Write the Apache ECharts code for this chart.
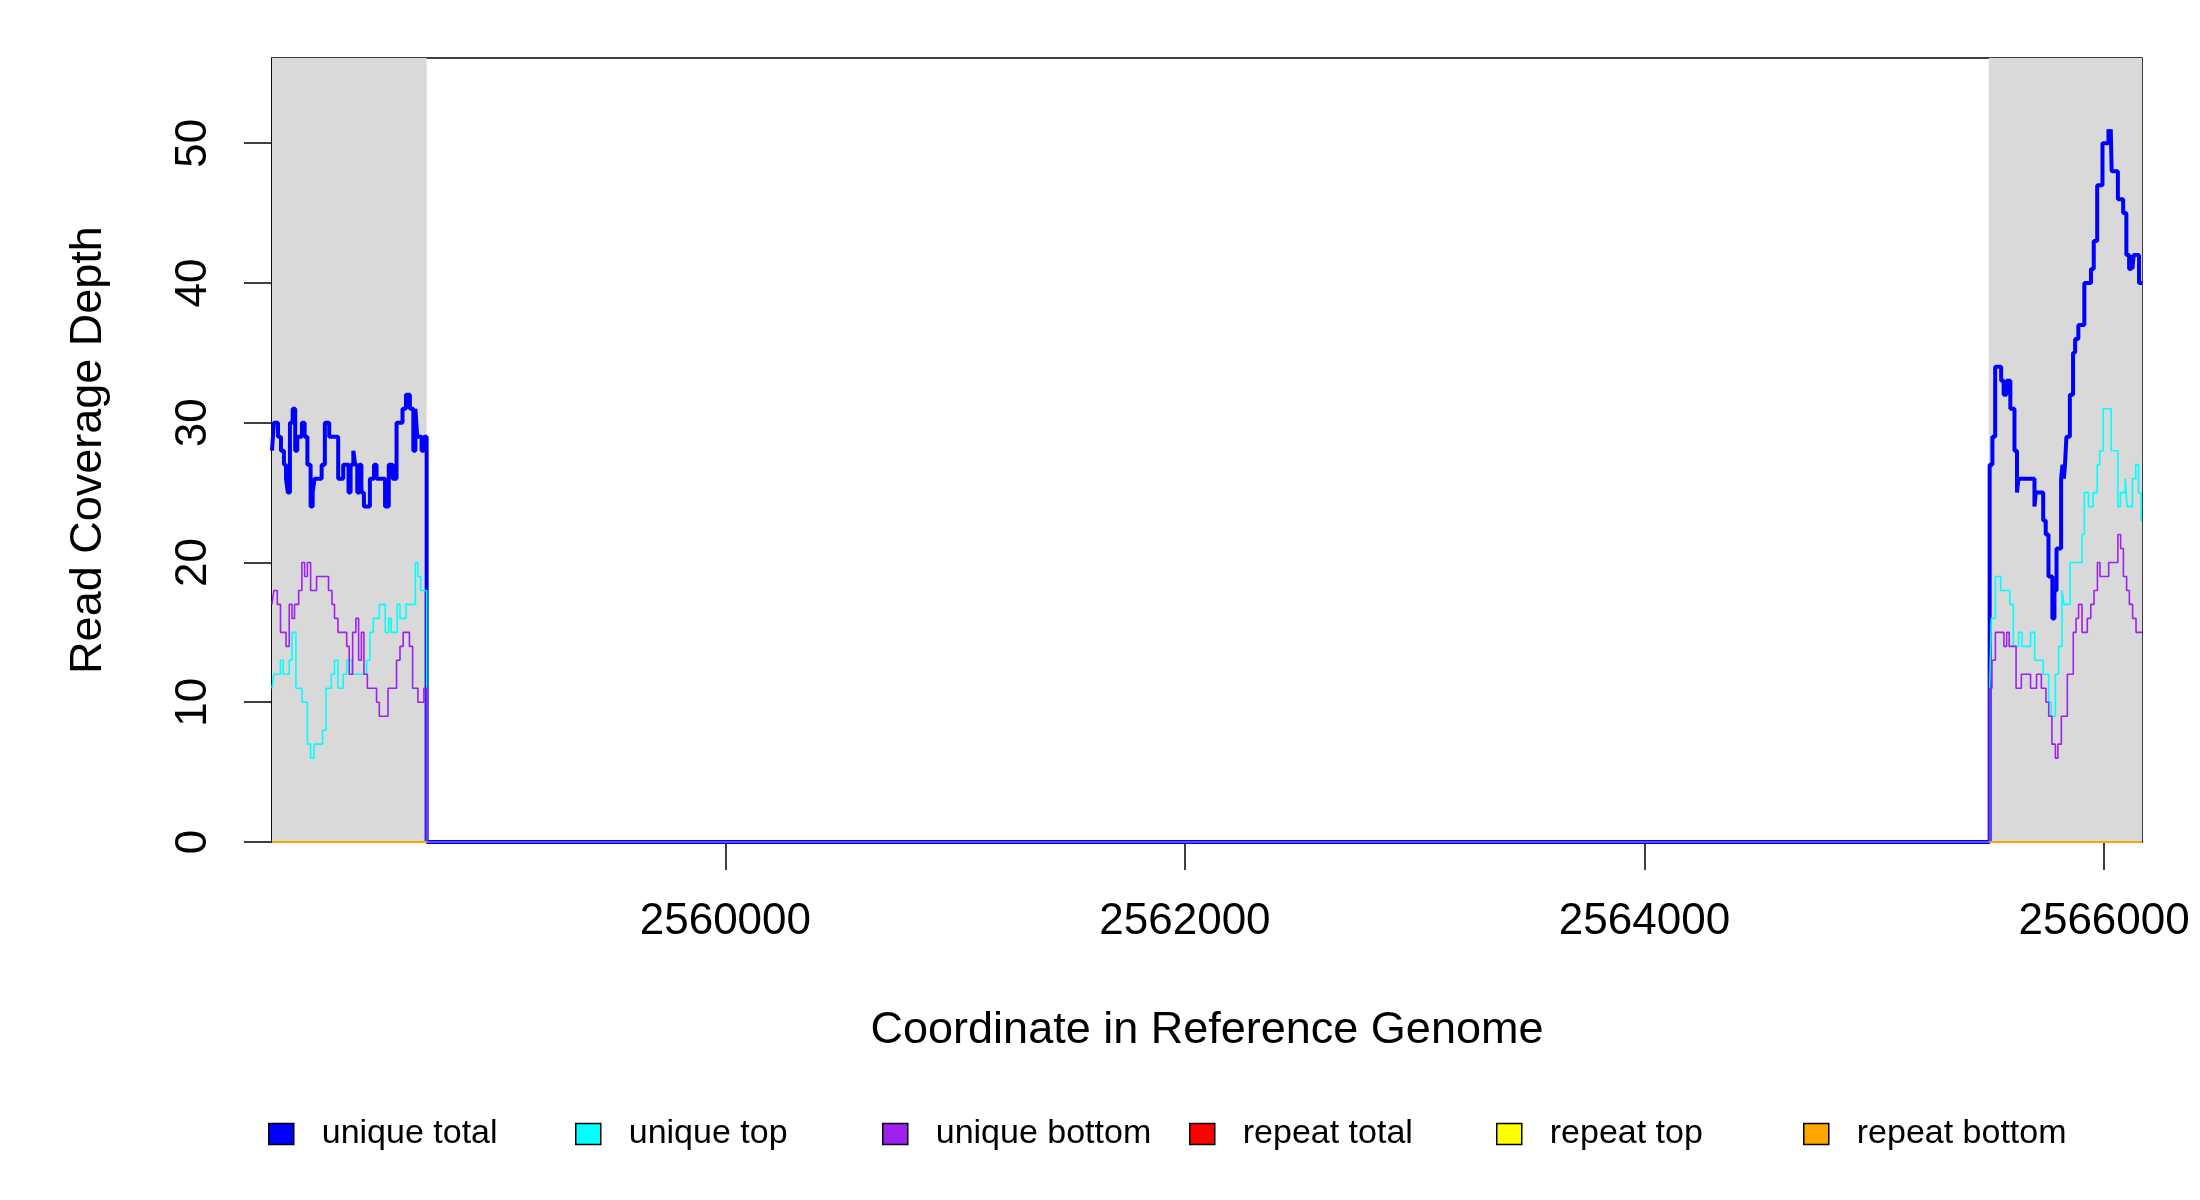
<!DOCTYPE html>
<html>
<head>
<meta charset="utf-8">
<script src="https://cdn.jsdelivr.net/npm/echarts@6/dist/echarts.min.js"></script>
<style>
  html, body { margin: 0; padding: 0; background: #fff; }
  #chart { width: 2200px; height: 1200px; }
</style>
</head>
<body>
<div id="chart"></div>
<script>
  // axis ranges and tick labels
  var xRange = [2558027, 2566165];
  var yRange = [0, 56.1];
  var xTicks = [2560000, 2562000, 2564000, 2566000];
  var yTicks = [0, 10, 20, 30, 40, 50];

  // grey background regions (genome coordinates)
  var shadedRegions = [[2558027, 2558700], [2565498, 2566165]];

  // coverage as [position, depth] steps; each value holds until the next position
  var uniqueTotal = [
    [2558027,28],[2558035,30],[2558053,29],[2558066,28],[2558079,27],[2558088,26],[2558096,25],[2558105,30],
    [2558117,31],[2558128,28],[2558137,29],[2558157,30],[2558169,29],[2558181,27],[2558195,24],[2558204,25],
    [2558212,26],[2558243,27],[2558257,30],[2558276,29],[2558315,26],[2558337,27],[2558360,25],[2558369,27],
    [2558381,28],[2558389,27],[2558398,25],[2558407,27],[2558416,25],[2558427,24],[2558453,26],[2558471,27],
    [2558482,26],[2558519,24],[2558535,27],[2558552,26],[2558569,30],[2558595,31],[2558610,32],[2558627,31],
    [2558642,28],[2558651,31],[2558659,29],[2558678,28],[2558688,29],[2558700,0],
    [2565502,27],[2565514,29],[2565526,34],[2565552,33],[2565563,32],[2565575,33],[2565592,31],[2565610,28],
    [2565621,25],[2565627,26],[2565697,24],[2565703,25],[2565735,23],[2565746,22],[2565758,19],[2565775,16],
    [2565784,18],[2565793,21],[2565813,26],[2565819,27],[2565825,26],[2565830,27],[2565836,29],[2565851,32],
    [2565865,35],[2565874,36],[2565888,37],[2565914,40],[2565943,41],[2565955,43],[2565970,47],[2565993,50],
    [2566019,51],[2566025,50],[2566029,51],[2566033,48],[2566060,46],[2566083,45],[2566097,42],[2566109,41],
    [2566118,42],[2566123,41],[2566129,42],[2566152,40],[2566165,40]
  ];
  var uniqueTop = [
    [2558027,11],[2558035,12],[2558064,13],[2558076,12],[2558102,13],[2558114,15],[2558131,11],[2558157,10],
    [2558181,7],[2558195,6],[2558210,7],[2558247,8],[2558262,11],[2558285,12],[2558299,13],[2558314,11],
    [2558337,12],[2558352,13],[2558375,12],[2558439,13],[2558453,15],[2558468,16],[2558494,17],[2558520,15],
    [2558535,16],[2558546,15],[2558572,17],[2558584,16],[2558610,17],[2558651,20],[2558662,19],[2558674,18],
    [2558700,0],
    [2565502,11],[2565509,16],[2565527,19],[2565550,18],[2565590,17],[2565605,14],[2565628,15],[2565643,14],
    [2565680,15],[2565698,13],[2565735,12],[2565759,10],[2565770,9],[2565788,12],[2565802,14],[2565817,18],
    [2565825,17],[2565852,20],[2565904,22],[2565914,25],[2565932,24],[2565952,25],[2565970,27],[2565981,28],
    [2565996,31],[2566031,28],[2566060,24],[2566071,25],[2566092,26],[2566100,24],[2566123,26],[2566138,27],
    [2566150,25],[2566161,23],[2566165,23]
  ];
  var uniqueBottom = [
    [2558027,17],[2558035,18],[2558050,17],[2558064,15],[2558088,14],[2558102,17],[2558114,16],[2558125,17],
    [2558143,18],[2558157,20],[2558169,19],[2558181,20],[2558195,18],[2558221,19],[2558273,18],[2558288,17],
    [2558299,16],[2558314,15],[2558352,14],[2558363,12],[2558378,15],[2558392,16],[2558404,13],[2558416,15],
    [2558427,12],[2558442,11],[2558482,10],[2558494,9],[2558532,11],[2558569,13],[2558584,14],[2558598,15],
    [2558625,14],[2558639,11],[2558662,10],[2558688,11],[2558700,0],
    [2565502,11],[2565512,13],[2565527,15],[2565564,14],[2565576,15],[2565587,14],[2565617,11],[2565640,12],
    [2565680,11],[2565706,12],[2565727,11],[2565747,10],[2565759,9],[2565773,7],[2565788,6],[2565799,7],
    [2565814,9],[2565840,12],[2565866,15],[2565878,16],[2565889,17],[2565904,15],[2565927,16],[2565942,17],
    [2565956,18],[2565971,20],[2565982,19],[2566020,20],[2566060,22],[2566072,21],[2566084,19],[2566098,18],
    [2566110,17],[2566124,16],[2566139,15],[2566165,15]
  ];
  // repeat reads: zero in both flanks, nothing in the gap (left flank, right flank)
  var repeatTotalLeft   = [[2558027,0],[2558700,0]];
  var repeatTotalRight  = [[2565502,0],[2566165,0]];
  var repeatTopLeft     = [[2558027,0],[2558700,0]];
  var repeatTopRight    = [[2565502,0],[2566165,0]];
  var repeatBottomLeft  = [[2558027,0],[2558700,0]];
  var repeatBottomRight = [[2565502,0],[2566165,0]];

  var seriesNames = ['unique total', 'unique top', 'unique bottom', 'repeat total', 'repeat top', 'repeat bottom'];
  var seriesColors = ['#0000ff', '#00ffff', '#a020f0', '#ff0000', '#ffff00', '#ffa500'];
  var seriesParts = [
    [uniqueTotal], [uniqueTop], [uniqueBottom],
    [repeatTotalLeft, repeatTotalRight], [repeatTopLeft, repeatTopRight], [repeatBottomLeft, repeatBottomRight]
  ];
  var seriesWidths = [4, 1.6, 1.6, 1.6, 1.6, 2];

  var font = 'Liberation Sans';
  var myChart = echarts.init(document.getElementById('chart'));

  var series = [{
    // only carries the grey shaded regions
    type: 'line',
    z: 1,
    data: [],
    silent: true,
    markArea: {
      silent: true,
      itemStyle: { color: '#d9d9d9' },
      data: shadedRegions.map(function (r) { return [{ xAxis: r[0] }, { xAxis: r[1] }]; })
    }
  }];
  seriesNames.forEach(function (name, i) {
    seriesParts[i].forEach(function (part) {
      series.push({
        name: name,
        type: 'line',
        step: 'end',
        showSymbol: false,
        symbol: 'none',
        z: 2 + i,
        color: seriesColors[i],
        lineStyle: { color: seriesColors[i], width: seriesWidths[i] },
        data: part
      });
    });
  });

  // one legend per entry so the entries are evenly spaced like the R legend
  var legendLefts = [268, 575, 882, 1189, 1496, 1803];
  var legends = seriesNames.map(function (name, i) {
    return {
      data: [name],
      left: legendLefts[i],
      top: 1117,
      padding: 0,
      icon: 'rect',
      itemWidth: 25,
      itemHeight: 21,
      itemStyle: { borderColor: '#000', borderWidth: 1.5 },
      selectedMode: false,
      textStyle: { fontFamily: font, fontSize: 34, color: '#000', lineHeight: 34, padding: [0, 0, 0, 23] }
    };
  });

  var option = {
    animation: false,
    backgroundColor: '#fff',
    grid: {
      left: 272, right: 58, top: 58, bottom: 358,
      show: true, borderColor: '#000', borderWidth: 1.5, backgroundColor: 'transparent',
      containLabel: false, outerBoundsMode: 'none'
    },
    legend: legends,
    xAxis: {
      type: 'value',
      min: xRange[0],
      max: xRange[1],
      name: 'Coordinate in Reference Genome',
      nameLocation: 'middle',
      nameGap: 166,
      nameTextStyle: { fontFamily: font, fontSize: 45, color: '#000' },
      axisLine: { show: true, lineStyle: { color: '#000', width: 1.5 } },
      axisTick: { show: true, length: 28, lineStyle: { color: '#000', width: 1.5 }, customValues: xTicks },
      axisLabel: {
        fontFamily: font, fontSize: 44, color: '#000', margin: 58, customValues: xTicks,
        formatter: function (v) { return String(v); }
      },
      splitLine: { show: false }
    },
    yAxis: {
      type: 'value',
      min: yRange[0],
      max: yRange[1],
      name: 'Read Coverage Depth',
      nameLocation: 'middle',
      nameRotate: 90,
      nameGap: 161,
      nameTextStyle: { fontFamily: font, fontSize: 45, color: '#000' },
      axisLine: { show: true, lineStyle: { color: '#000', width: 1.5 } },
      axisTick: { show: true, length: 28, lineStyle: { color: '#000', width: 1.5 }, customValues: yTicks },
      axisLabel: { fontFamily: font, fontSize: 44, color: '#000', margin: 56, rotate: 90, customValues: yTicks },
      splitLine: { show: false }
    },
    series: series
  };
  myChart.setOption(option);
</script>
</body>
</html>
